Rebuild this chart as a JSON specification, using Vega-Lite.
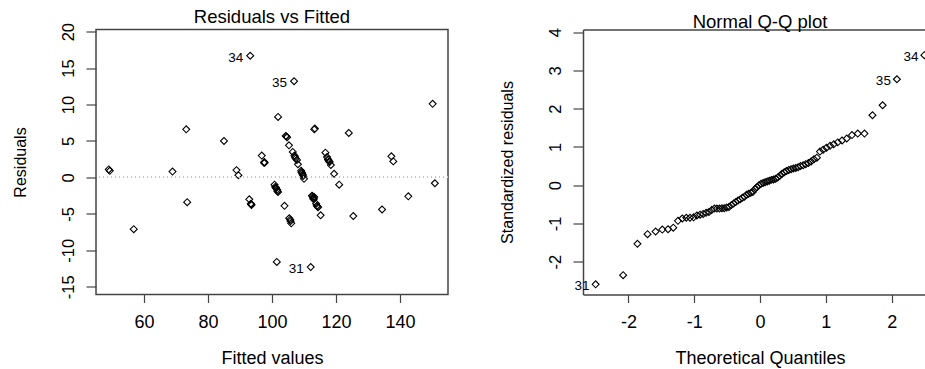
{
  "$schema": "https://vega.github.io/schema/vega-lite/v6.json",
  "autosize": {"type": "pad"},
  "padding": {"left": 11, "top": 6.5, "right": 0, "bottom": 0},
  "background": "white",
  "bounds": "flush",
  "spacing": 135,
  "config": {
    "font": "Liberation Sans",
    "view": {"stroke": "#444", "strokeWidth": 1.5},
    "axis": {"grid": false, "domain": false, "tickColor": "#444", "tickWidth": 1.2, "labelColor": "#000", "titleColor": "#000", "titleFontWeight": "normal", "labelFont": "Liberation Sans", "titleFont": "Liberation Sans", "labelFlush": false, "labelOverlap": false, "labelExpr": "'' + datum.value"},
    "axisX": {"tickSize": 8, "labelFontSize": 18, "labelPadding": 11, "titleFontSize": 18, "titlePadding": 18},
    "axisY": {"tickSize": 10, "labelFontSize": 16.5, "labelPadding": 10, "titleFontSize": 16, "titlePadding": 32},
    "title": {"fontSize": 18.5, "fontWeight": "normal", "color": "#000", "font": "Liberation Sans", "offset": -3.5, "baseline": "alphabetic"}
  },
  "datasets": {
    "fit": [
      {"fitted": 49.0, "resid": 1.1}, {"fitted": 49.3, "resid": 0.9}, {"fitted": 56.8, "resid": -7.1}, {"fitted": 68.9, "resid": 0.8},
      {"fitted": 73.2, "resid": 6.6}, {"fitted": 73.5, "resid": -3.4}, {"fitted": 85.0, "resid": 5.0}, {"fitted": 88.9, "resid": 1.0},
      {"fitted": 89.5, "resid": 0.3}, {"fitted": 92.9, "resid": -3.0}, {"fitted": 93.4, "resid": -3.6}, {"fitted": 93.6, "resid": -3.8},
      {"fitted": 93.2, "resid": 16.7, "label": "34"}, {"fitted": 96.8, "resid": 3.0}, {"fitted": 97.6, "resid": 2.1}, {"fitted": 97.7, "resid": 2.0},
      {"fitted": 100.8, "resid": -1.0}, {"fitted": 101.0, "resid": -1.3}, {"fitted": 101.3, "resid": -1.5}, {"fitted": 101.6, "resid": -1.7},
      {"fitted": 101.9, "resid": -2.0}, {"fitted": 101.5, "resid": -11.6}, {"fitted": 101.9, "resid": 8.3}, {"fitted": 103.9, "resid": -3.9},
      {"fitted": 104.3, "resid": 5.7}, {"fitted": 104.7, "resid": 5.5}, {"fitted": 105.3, "resid": 4.4}, {"fitted": 105.4, "resid": -5.6},
      {"fitted": 105.7, "resid": -5.8}, {"fitted": 106.0, "resid": -6.3}, {"fitted": 106.5, "resid": 3.5}, {"fitted": 106.9, "resid": 13.2, "label": "35"},
      {"fitted": 107.0, "resid": 3.0}, {"fitted": 107.4, "resid": 2.6}, {"fitted": 107.8, "resid": 2.4}, {"fitted": 108.1, "resid": 1.8},
      {"fitted": 109.1, "resid": 0.9}, {"fitted": 109.4, "resid": 0.6}, {"fitted": 109.7, "resid": 0.2}, {"fitted": 110.0, "resid": -0.2},
      {"fitted": 112.1, "resid": -12.3, "label": "31"}, {"fitted": 112.5, "resid": -2.5}, {"fitted": 112.8, "resid": -2.8}, {"fitted": 113.0, "resid": -3.0},
      {"fitted": 113.2, "resid": -2.7}, {"fitted": 113.8, "resid": -3.6}, {"fitted": 114.2, "resid": -4.0}, {"fitted": 114.4, "resid": -4.1},
      {"fitted": 113.2, "resid": 6.6}, {"fitted": 113.4, "resid": 6.7}, {"fitted": 115.2, "resid": -5.2}, {"fitted": 116.7, "resid": 3.4},
      {"fitted": 117.2, "resid": 2.8}, {"fitted": 117.6, "resid": 2.4}, {"fitted": 118.0, "resid": 2.1}, {"fitted": 118.4, "resid": 1.7},
      {"fitted": 119.4, "resid": 0.5}, {"fitted": 121.0, "resid": -1.0}, {"fitted": 124.0, "resid": 6.1}, {"fitted": 125.4, "resid": -5.3},
      {"fitted": 134.4, "resid": -4.4}, {"fitted": 137.3, "resid": 2.9}, {"fitted": 137.9, "resid": 2.2}, {"fitted": 142.6, "resid": -2.6},
      {"fitted": 150.2, "resid": 10.1}, {"fitted": 150.9, "resid": -0.8}, {"fitted": 101.2, "resid": -1.4}, {"fitted": 101.7, "resid": -1.9},
      {"fitted": 112.7, "resid": -2.6}, {"fitted": 113.0, "resid": -2.9}, {"fitted": 114.0, "resid": -3.9}, {"fitted": 97.5, "resid": 2.0},
      {"fitted": 93.5, "resid": -3.7}, {"fitted": 105.8, "resid": -6.0}, {"fitted": 109.2, "resid": 0.7}, {"fitted": 109.6, "resid": 0.4},
      {"fitted": 117.9, "resid": 2.2}, {"fitted": 117.5, "resid": 2.5}, {"fitted": 104.5, "resid": 5.6}, {"fitted": 107.2, "resid": 2.8}
    ],
    "qq": [
      {"theo": -2.498, "std": -2.59, "label": "31"}, {"theo": -2.080, "std": -2.35}, {"theo": -1.863, "std": -1.53}, {"theo": -1.709, "std": -1.28},
      {"theo": -1.587, "std": -1.21}, {"theo": -1.485, "std": -1.16}, {"theo": -1.397, "std": -1.15}, {"theo": -1.318, "std": -1.11},
      {"theo": -1.247, "std": -0.93}, {"theo": -1.181, "std": -0.87}, {"theo": -1.120, "std": -0.85}, {"theo": -1.064, "std": -0.85},
      {"theo": -1.010, "std": -0.84}, {"theo": -0.959, "std": -0.79}, {"theo": -0.911, "std": -0.77}, {"theo": -0.864, "std": -0.75},
      {"theo": -0.820, "std": -0.72}, {"theo": -0.776, "std": -0.70}, {"theo": -0.735, "std": -0.65}, {"theo": -0.694, "std": -0.61},
      {"theo": -0.655, "std": -0.61}, {"theo": -0.616, "std": -0.61}, {"theo": -0.579, "std": -0.60}, {"theo": -0.543, "std": -0.60},
      {"theo": -0.507, "std": -0.58}, {"theo": -0.472, "std": -0.57}, {"theo": -0.437, "std": -0.52}, {"theo": -0.402, "std": -0.48},
      {"theo": -0.369, "std": -0.44}, {"theo": -0.335, "std": -0.40}, {"theo": -0.302, "std": -0.37}, {"theo": -0.269, "std": -0.33},
      {"theo": -0.237, "std": -0.30}, {"theo": -0.205, "std": -0.25}, {"theo": -0.173, "std": -0.22}, {"theo": -0.141, "std": -0.20},
      {"theo": -0.110, "std": -0.18}, {"theo": -0.078, "std": -0.10}, {"theo": -0.047, "std": -0.05}, {"theo": -0.016, "std": 0.00},
      {"theo": 0.016, "std": 0.04}, {"theo": 0.047, "std": 0.06}, {"theo": 0.078, "std": 0.08}, {"theo": 0.110, "std": 0.10},
      {"theo": 0.141, "std": 0.12}, {"theo": 0.173, "std": 0.14}, {"theo": 0.205, "std": 0.15}, {"theo": 0.237, "std": 0.17},
      {"theo": 0.269, "std": 0.20}, {"theo": 0.302, "std": 0.25}, {"theo": 0.335, "std": 0.30}, {"theo": 0.369, "std": 0.34},
      {"theo": 0.402, "std": 0.37}, {"theo": 0.437, "std": 0.40}, {"theo": 0.472, "std": 0.42}, {"theo": 0.507, "std": 0.44},
      {"theo": 0.543, "std": 0.45}, {"theo": 0.579, "std": 0.47}, {"theo": 0.616, "std": 0.50}, {"theo": 0.655, "std": 0.52},
      {"theo": 0.694, "std": 0.55}, {"theo": 0.735, "std": 0.58}, {"theo": 0.776, "std": 0.62}, {"theo": 0.820, "std": 0.68},
      {"theo": 0.864, "std": 0.72}, {"theo": 0.911, "std": 0.88}, {"theo": 0.959, "std": 0.93}, {"theo": 1.010, "std": 0.98},
      {"theo": 1.064, "std": 1.03}, {"theo": 1.120, "std": 1.07}, {"theo": 1.181, "std": 1.12}, {"theo": 1.247, "std": 1.17},
      {"theo": 1.318, "std": 1.22}, {"theo": 1.397, "std": 1.31}, {"theo": 1.485, "std": 1.35}, {"theo": 1.587, "std": 1.35},
      {"theo": 1.709, "std": 1.83}, {"theo": 1.863, "std": 2.09}, {"theo": 2.080, "std": 2.77, "label": "35"}, {"theo": 2.498, "std": 3.40, "label": "34"}
    ]
  },
  "hconcat": [
    {
      "width": 352,
      "height": 265,
      "title": "Residuals vs Fitted",
      "data": {"name": "fit"},
      "layer": [
        {
          "mark": {"type": "point", "shape": "diamond", "size": 48, "filled": false, "stroke": "#000", "strokeWidth": 1.1, "opacity": 1},
          "encoding": {
            "x": {"field": "fitted", "type": "quantitative", "scale": {"domain": [45, 155], "nice": false, "zero": false}, "axis": {"values": [60, 80, 100, 120, 140], "title": "Fitted values", "labelOverlap": false}},
            "y": {"field": "resid", "type": "quantitative", "scale": {"domain": [-16.07, 20.3], "nice": false, "zero": false}, "axis": {"values": [-15, -10, -5, 0, 5, 10, 15, 20], "title": "Residuals", "labelAngle": 270, "labelAlign": "center", "labelBaseline": "bottom", "labelOverlap": false}}
          }
        },
        {
          "mark": {"type": "rule", "color": "#c4c4c4", "strokeDash": [1, 3], "strokeWidth": 1.3},
          "encoding": {"y": {"datum": 0, "type": "quantitative", "axis": {"values": [-15, -10, -5, 0, 5, 10, 15, 20], "title": "Residuals", "labelAngle": 270, "labelAlign": "center", "labelBaseline": "bottom", "labelOverlap": false}}}
        },
        {
          "transform": [{"filter": "isValid(datum.label)"}],
          "mark": {"type": "text", "align": "right", "baseline": "middle", "dx": -7, "dy": 2, "fontSize": 13.5, "color": "#000"},
          "encoding": {
            "x": {"field": "fitted", "type": "quantitative", "axis": {"values": [60, 80, 100, 120, 140], "title": "Fitted values", "labelOverlap": false}},
            "y": {"field": "resid", "type": "quantitative", "axis": {"values": [-15, -10, -5, 0, 5, 10, 15, 20], "title": "Residuals", "labelAngle": 270, "labelAlign": "center", "labelBaseline": "bottom", "labelOverlap": false}},
            "text": {"field": "label"}
          }
        }
      ]
    },
    {
      "width": 342,
      "height": 265,
      "title": {"text": "Normal Q-Q plot", "dx": 6},
      "data": {"name": "qq"},
      "view": {"stroke": null},
      "layer": [
        {
          "mark": {"type": "point", "shape": "diamond", "size": 48, "filled": false, "stroke": "#000", "strokeWidth": 1.1, "opacity": 1, "clip": true},
          "encoding": {
            "x": {"field": "theo", "type": "quantitative", "scale": {"domain": [-2.69, 2.507], "nice": false, "zero": false}, "axis": {"values": [-2, -1, 0, 1, 2], "title": "Theoretical Quantiles", "titleX": 177, "domain": true, "domainColor": "#444", "domainWidth": 1.5, "labelOverlap": false}},
            "y": {"field": "std", "type": "quantitative", "scale": {"domain": [-2.856, 4.07], "nice": false, "zero": false}, "axis": {"values": [-2, -1, 0, 1, 2, 3, 4], "title": "Standardized residuals", "domain": true, "domainColor": "#444", "domainWidth": 1.5, "labelAngle": 270, "labelAlign": "center", "labelBaseline": "bottom", "labelOverlap": false}}
          }
        },
        {
          "transform": [{"filter": "isValid(datum.label)"}],
          "mark": {"type": "text", "align": "right", "baseline": "middle", "dx": -6, "dy": 2, "fontSize": 13.5, "color": "#000"},
          "encoding": {
            "x": {"field": "theo", "type": "quantitative", "axis": {"orient": "top", "labels": false, "ticks": false, "title": null, "domain": true, "domainColor": "#444", "domainWidth": 1.5}},
            "y": {"field": "std", "type": "quantitative", "axis": {"values": [-2, -1, 0, 1, 2, 3, 4], "title": "Standardized residuals", "domain": true, "domainColor": "#444", "domainWidth": 1.5, "labelAngle": 270, "labelAlign": "center", "labelBaseline": "bottom", "labelOverlap": false}},
            "text": {"field": "label"}
          }
        }
      ],
      "resolve": {"axis": {"x": "independent"}}
    }
  ]
}
